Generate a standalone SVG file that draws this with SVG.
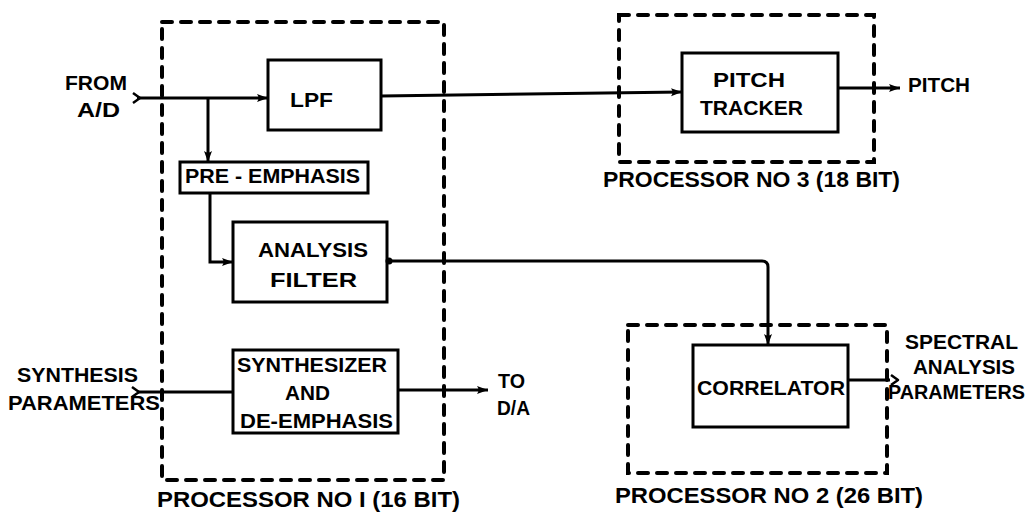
<svg xmlns="http://www.w3.org/2000/svg" width="1032" height="514" viewBox="0 0 1032 514">
<defs>
<style>
.box{fill:none;stroke:#000;stroke-width:3}
.grp{fill:none;stroke:#000;stroke-width:4;stroke-dasharray:10 9;stroke-linecap:round}
.ln{fill:none;stroke:#000;stroke-width:3}
.tl{fill:none;stroke:#000;stroke-width:2.5;stroke-linejoin:round}
text{font-family:"Liberation Sans",Arial,sans-serif;font-weight:bold;font-size:20px;fill:#000}
.lab{font-size:22px}
</style>
<marker id="ah" markerUnits="userSpaceOnUse" markerWidth="14" markerHeight="10" refX="11" refY="5" orient="auto">
<path d="M0,1 L11,5 L0,9 Q3,5 0,1 z" fill="#000"/>
</marker>
</defs>
<rect width="1032" height="514" fill="#fff"/>

<g id="proc1">
<rect class="grp" x="162" y="22" width="282" height="458"/>
<text class="lab" x="157" y="507" textLength="303" lengthAdjust="spacingAndGlyphs">PROCESSOR NO I  (16 BIT)</text>
</g>
<g id="proc3">
<rect class="grp" x="619" y="15" width="255" height="147"/>
<text class="lab" x="603" y="187" textLength="297" lengthAdjust="spacingAndGlyphs">PROCESSOR NO 3 (18 BIT)</text>
</g>
<g id="proc2">
<rect class="grp" x="628" y="325" width="259" height="148"/>
<text class="lab" x="615" y="503" textLength="308" lengthAdjust="spacingAndGlyphs">PROCESSOR NO 2 (26 BIT)</text>
</g>

<g id="lpf">
<rect class="box" x="268" y="60" width="113" height="70"/>
<text x="290" y="107" textLength="43" lengthAdjust="spacingAndGlyphs">LPF</text>
</g>
<g id="preemphasis">
<rect class="box" x="180" y="162" width="188" height="31"/>
<text x="185" y="183" textLength="175" lengthAdjust="spacingAndGlyphs">PRE - EMPHASIS</text>
</g>
<g id="analysis">
<rect class="box" x="233" y="222" width="154" height="80"/>
<text x="258" y="257" textLength="110" lengthAdjust="spacingAndGlyphs">ANALYSIS</text>
<text x="270" y="287" textLength="87" lengthAdjust="spacingAndGlyphs">FILTER</text>
</g>
<g id="synth">
<rect class="box" x="233" y="350" width="165" height="83"/>
<text x="237" y="372" textLength="150" lengthAdjust="spacingAndGlyphs">SYNTHESIZER</text>
<text x="285" y="400" textLength="45" lengthAdjust="spacingAndGlyphs">AND</text>
<text x="240" y="428" textLength="153" lengthAdjust="spacingAndGlyphs">DE-EMPHASIS</text>
</g>
<g id="pitchtracker">
<rect class="box" x="682" y="53" width="156" height="79"/>
<text x="713" y="87" textLength="72" lengthAdjust="spacingAndGlyphs">PITCH</text>
<text x="700" y="115" textLength="103" lengthAdjust="spacingAndGlyphs">TRACKER</text>
</g>
<g id="correlator">
<rect class="box" x="693" y="345" width="155" height="82"/>
<text x="697" y="395" textLength="148" lengthAdjust="spacingAndGlyphs">CORRELATOR</text>
</g>

<g id="io-labels">
<text x="65" y="90" textLength="62" lengthAdjust="spacingAndGlyphs">FROM</text>
<text x="77" y="117" textLength="43" lengthAdjust="spacingAndGlyphs">A/D</text>
<text x="17" y="382" textLength="121" lengthAdjust="spacingAndGlyphs">SYNTHESIS</text>
<text x="8" y="410" textLength="152" lengthAdjust="spacingAndGlyphs">PARAMETERS</text>
<text x="498" y="388" textLength="27" lengthAdjust="spacingAndGlyphs">TO</text>
<text x="497" y="415" textLength="33" lengthAdjust="spacingAndGlyphs">D/A</text>
<text x="908" y="92" textLength="62" lengthAdjust="spacingAndGlyphs">PITCH</text>
<text x="905" y="349" textLength="113" lengthAdjust="spacingAndGlyphs">SPECTRAL</text>
<text x="913" y="374" textLength="102" lengthAdjust="spacingAndGlyphs">ANALYSIS</text>
<text x="888" y="399" textLength="137" lengthAdjust="spacingAndGlyphs">PARAMETERS</text>
</g>

<g id="connectors">
<path class="ln" d="M137 98 H268" marker-end="url(#ah)"/>
<path class="tl" d="M133 93 L140 98 L133 103"/>
<path class="ln" d="M208 98 V162" marker-end="url(#ah)"/>
<path class="ln" d="M210 193 V262 H233" marker-end="url(#ah)"/>
<path class="ln" d="M381 96 L682 92" marker-end="url(#ah)"/>
<path class="ln" d="M838 88 H900" marker-end="url(#ah)"/>
<path class="ln" d="M387 261 H762 Q768 261 768 267 V345" marker-end="url(#ah)"/>
<circle cx="389" cy="261" r="3.5" fill="#000"/>
<path class="ln" d="M137 392 H233"/>
<path class="tl" d="M132 387 L139 392 L132 397"/>
<path class="ln" d="M398 390 H488" marker-end="url(#ah)"/>
<path class="ln" d="M848 380 H890"/>
<path class="tl" d="M891 375 L898 380 L891 385"/>
</g>
</svg>
